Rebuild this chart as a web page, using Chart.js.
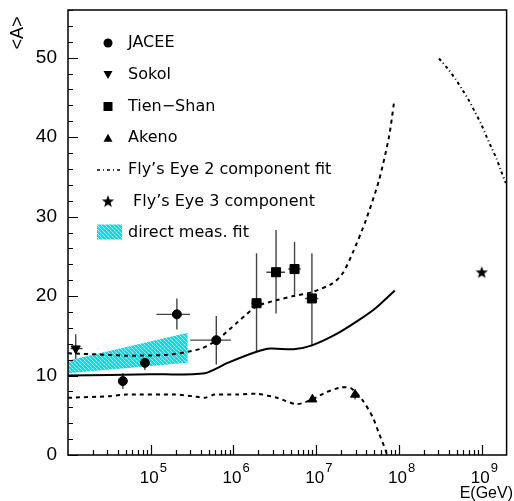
<!DOCTYPE html>
<html>
<head>
<meta charset="utf-8">
<script src="https://cdn.jsdelivr.net/npm/chart.js@4.4.1/dist/chart.umd.min.js"></script>
<style>
  html, body { margin: 0; padding: 0; background: #fff; }
  canvas { display: block; }
</style>
</head>
<body>
<canvas id="chart" width="514" height="501"></canvas>
<script>
// --- data ---
const jaceeE = [4.6e4, 8.5e4, 2.07e5, 6.2e5];
const jaceeA = [9.3, 11.6, 17.7, 14.45];
const jaceeElo = [4.05e4, 5.6e4, 1.17e5, 3.0e5];
const jaceeEhi = [5.3e4, 1.14e5, 2.98e5, 9.3e5];
const jaceeAlo = [8.3, 10.7, 15.8, 11.4];
const jaceeAhi = [10.3, 12.5, 19.7, 17.5];

const sokolE = [1.24e4];
const sokolA = [13.4];
const sokolElo = [1.07e4];
const sokolEhi = [1.5e4];
const sokolAlo = [11.5];
const sokolAhi = [15.2];

const tienE = [1.9e6, 3.27e6, 5.47e6, 8.87e6];
const tienA = [19.1, 23.0, 23.4, 19.7];
const tienElo = [1.65e6, 2.5e6, 4.6e6, 7.3e6];
const tienEhi = [2.25e6, 4.2e6, 6.5e6, 1.06e7];
const tienAlo = [13.0, 17.8, 19.9, 13.8];
const tienAhi = [25.4, 28.3, 26.8, 25.4];

const akenoE = [9.0e6, 2.95e7];
const akenoA = [7.0, 7.6];
const akenoAlo = [7.0, 7.0];
const akenoAhi = [7.0, 8.2];

const fly3E = [1.0e9];
const fly3A = [23.0];

// mean <A> (solid)
const meanE = [1e4, 1e5, 4.5e5, 8.5e5, 1.9e6, 2.8e6, 5.3e6, 8.9e6, 1.74e7, 3.3e7, 5.25e7, 8.9e7];
const meanA = [10.0, 10.15, 10.3, 11.6, 13.0, 13.4, 13.3, 13.8, 15.2, 17.0, 18.5, 20.7];

// upper / lower bounds (dashed)
const upperE = [1e4, 3.2e4, 5e4, 1.6e5, 2.8e5, 4.1e5, 6.2e5, 1.12e6, 1.9e6, 3.37e6, 5.3e6, 8.9e6, 1.58e7, 2.1e7, 2.75e7, 4e7, 5.75e7, 7.6e7, 8.7e7];
const upperA = [12.8, 12.6, 12.5, 12.6, 13.0, 13.4, 14.4, 16.7, 18.7, 19.5, 20.0, 20.5, 21.6, 22.9, 25.4, 29.6, 34.6, 40.1, 44.3];
const lowerE = [1e4, 3.2e4, 5e4, 2e5, 3.2e5, 4.5e5, 5.9e5, 1.12e6, 1.95e6, 3.37e6, 5.8e6, 9e6, 1.32e7, 2e7, 2.63e7, 3.63e7, 4.8e7, 5.75e7, 6.9e7, 7.2e7];
const lowerA = [7.2, 7.4, 7.6, 7.6, 7.4, 7.2, 7.6, 7.6, 7.7, 7.2, 6.4, 7.0, 7.9, 8.5, 8.4, 6.9, 4.8, 2.7, 0.6, 0.0];

// Fly's Eye 2 component fit (dash-dot)
const fly2E = [3.05e8, 3.9e8, 4.83e8, 5.9e8, 7.1e8, 8.35e8, 9.8e8, 1.13e9, 1.31e9, 1.51e9, 1.72e9, 1.96e9];
const fly2A = [49.9, 48.6, 47.3, 45.9, 44.5, 43.1, 41.7, 40.2, 38.7, 37.3, 35.7, 34.2];

// direct measurement fit band
const bandE = [1e4, 2.8e5];
const bandLo = [10.3, 11.6];
const bandHi = [11.9, 15.4];

const yTicks = [0, 10, 20, 30, 40, 50];
const xExps = [5, 6, 7, 8, 9];

const pts = (xs, ys) => xs.map((x, i) => ({ x, y: ys[i] }));

// star marker
const starImg = document.createElement('canvas');
starImg.width = starImg.height = 14;
(function () {
  const g = starImg.getContext('2d');
  g.fillStyle = '#000';
  g.beginPath();
  for (let i = 0; i < 10; i++) {
    const r = i % 2 ? 2.7 : 6.5;
    const a = -Math.PI / 2 + i * Math.PI / 5;
    g.lineTo(7 + r * Math.cos(a), 7.5 + r * Math.sin(a));
  }
  g.closePath();
  g.fill();
})();

// hatched cyan fill
const hatch = document.createElement('canvas');
hatch.width = hatch.height = 4;
(function () {
  const g = hatch.getContext('2d');
  g.fillStyle = '#00e2f4';
  g.fillRect(0, 0, 4, 4);
  g.strokeStyle = 'rgba(190,248,255,0.9)';
  g.lineWidth = 1;
  g.beginPath();
  g.moveTo(-1, -1); g.lineTo(5, 5);
  g.moveTo(-1, 3); g.lineTo(1, 5);
  g.moveTo(3, -1); g.lineTo(5, 1);
  g.stroke();
})();

const canvas = document.getElementById('chart');
const hatchPattern = canvas.getContext('2d').createPattern(hatch, 'repeat');

const errorSets = [
  { e: jaceeE, a: jaceeA, elo: jaceeElo, ehi: jaceeEhi, alo: jaceeAlo, ahi: jaceeAhi },
  { e: sokolE, a: sokolA, elo: sokolElo, ehi: sokolEhi, alo: sokolAlo, ahi: sokolAhi },
  { e: tienE, a: tienA, elo: tienElo, ehi: tienEhi, alo: tienAlo, ahi: tienAhi },
  { e: akenoE, a: akenoA, elo: akenoE, ehi: akenoE, alo: akenoAlo, ahi: akenoAhi },
];

const errorBars = {
  id: 'errorBars',
  beforeDatasetsDraw(chart) {
    const { ctx, scales: { x, y } } = chart;
    ctx.save();
    ctx.strokeStyle = '#444';
    ctx.lineWidth = 1.4;
    errorSets.forEach(s => {
      s.e.forEach((e, i) => {
        const px = x.getPixelForValue(e), py = y.getPixelForValue(s.a[i]);
        ctx.beginPath();
        ctx.moveTo(x.getPixelForValue(s.elo[i]), py);
        ctx.lineTo(x.getPixelForValue(s.ehi[i]), py);
        ctx.moveTo(px, y.getPixelForValue(s.alo[i]));
        ctx.lineTo(px, y.getPixelForValue(s.ahi[i]));
        ctx.stroke();
      });
    });
    ctx.restore();
  }
};

const frame = {
  id: 'frame',
  afterDraw(chart) {
    const { ctx, chartArea: a, scales: { x, y } } = chart;
    ctx.save();
    ctx.strokeStyle = '#000';
    ctx.lineWidth = 1.5;
    ctx.strokeRect(a.left, a.top, a.right - a.left, a.bottom - a.top);

    // y ticks, inward
    ctx.lineWidth = 1.2;
    ctx.beginPath();
    for (let v = 0; v <= 56; v += 2) {
      const py = Math.round(y.getPixelForValue(v)) + 0.5;
      const len = v % 10 === 0 ? 10 : 5;
      ctx.moveTo(a.left, py);
      ctx.lineTo(a.left + len, py);
    }
    // x ticks, inward
    for (let d = 4; d <= 9; d++) {
      for (let m = 1; m <= 9; m++) {
        const v = m * Math.pow(10, d);
        if (v <= x.min || v >= x.max) continue;
        const px = Math.round(x.getPixelForValue(v)) + 0.5;
        const len = m === 1 ? 10 : 5;
        ctx.moveTo(px, a.bottom);
        ctx.lineTo(px, a.bottom - len);
      }
    }
    ctx.stroke();

    // x tick labels 10^n
    ctx.fillStyle = '#000';
    xExps.forEach(n => {
      const px = x.getPixelForValue(Math.pow(10, n));
      ctx.font = '17px "Liberation Sans", Arial, sans-serif';
      ctx.textAlign = 'right';
      ctx.textBaseline = 'alphabetic';
      ctx.fillText('10', px + 8, 483);
      ctx.font = '13px "Liberation Sans", Arial, sans-serif';
      ctx.textAlign = 'left';
      ctx.fillText(String(n), px + 9, 472);
    });

    // axis titles
    ctx.font = '16px "Liberation Sans", Arial, sans-serif';
    ctx.textAlign = 'right';
    ctx.fillText('E(GeV)', 513, 498);
    ctx.save();
    ctx.translate(23, 33);
    ctx.rotate(-Math.PI / 2);
    ctx.textAlign = 'center';
    ctx.font = '18px "Liberation Sans", Arial, sans-serif';
    ctx.fillText('<A>', 0, 0);
    ctx.restore();

    // legend
    const rows = [43, 74.5, 106.5, 138.3, 170, 201.7, 232.5];
    const mx = 108, tx = 128;
    ctx.font = '16px "DejaVu Sans", sans-serif';
    ctx.textAlign = 'left';
    ctx.textBaseline = 'middle';
    ctx.fillStyle = '#000';
    // circle
    ctx.beginPath(); ctx.arc(mx, rows[0], 4.5, 0, Math.PI * 2); ctx.fill();
    // inverted triangle
    ctx.beginPath(); ctx.moveTo(mx - 4.5, rows[1] - 3.5); ctx.lineTo(mx + 4.5, rows[1] - 3.5); ctx.lineTo(mx, rows[1] + 4.5); ctx.closePath(); ctx.fill();
    // square
    ctx.fillRect(mx - 4.5, rows[2] - 4.5, 9, 9);
    // triangle
    ctx.beginPath(); ctx.moveTo(mx - 4.5, rows[3] + 3.5); ctx.lineTo(mx + 4.5, rows[3] + 3.5); ctx.lineTo(mx, rows[3] - 4.5); ctx.closePath(); ctx.fill();
    // dash-dot
    ctx.save();
    ctx.lineWidth = 1.5;
    ctx.setLineDash([3, 3, 1, 3]);
    ctx.beginPath(); ctx.moveTo(97, rows[4]); ctx.lineTo(120, rows[4]); ctx.stroke();
    ctx.restore();
    // star
    ctx.drawImage(starImg, mx - 7, rows[5] - 7.5);
    // band swatch
    ctx.fillStyle = hatchPattern;
    ctx.fillRect(97, rows[6] - 8, 25, 15);
    ctx.fillStyle = '#000';

    const labels = ['JACEE', 'Sokol', 'Tien\u2212Shan', 'Akeno', 'Fly\u2019s Eye 2 component fit', ' Fly\u2019s Eye 3 component', 'direct meas. fit'];
    labels.forEach((t, i) => ctx.fillText(t, tx, rows[i]));
    ctx.restore();
  }
};

new Chart(canvas, {
  type: 'scatter',
  data: {
    datasets: [
      { data: pts(bandE, bandLo), showLine: true, borderWidth: 0, pointRadius: 0, fill: false, order: 10 },
      { data: pts(bandE, bandHi), showLine: true, borderWidth: 0, pointRadius: 0, fill: '-1', backgroundColor: hatchPattern, order: 10 },
      { data: pts(meanE, meanA), showLine: true, borderColor: '#000', borderWidth: 2, pointRadius: 0, tension: 0.25, order: 5 },
      { data: pts(upperE, upperA), showLine: true, borderColor: '#000', borderWidth: 2, borderDash: [4, 4], pointRadius: 0, tension: 0.25, order: 5 },
      { data: pts(lowerE, lowerA), showLine: true, borderColor: '#000', borderWidth: 2, borderDash: [4, 4], pointRadius: 0, tension: 0.25, order: 5 },
      { data: pts(fly2E, fly2A), showLine: true, borderColor: '#000', borderWidth: 2, borderDash: [3, 3, 1, 3], pointRadius: 0, tension: 0.2, order: 5 },
      { data: pts(jaceeE, jaceeA), pointStyle: 'circle', pointRadius: 4.5, backgroundColor: '#000', borderColor: '#000', order: 1 },
      { data: pts(sokolE, sokolA), pointStyle: 'triangle', rotation: 180, pointRadius: 5.2, backgroundColor: '#000', borderColor: '#000', order: 1 },
      { data: pts(tienE, tienA), pointStyle: 'rect', pointRadius: 6.4, backgroundColor: '#000', borderColor: '#000', order: 1 },
      { data: pts(akenoE, akenoA), pointStyle: 'triangle', pointRadius: 5.2, backgroundColor: '#000', borderColor: '#000', order: 1 },
      { data: pts(fly3E, fly3A), pointStyle: starImg, order: 1 },
    ]
  },
  options: {
    responsive: false,
    animation: false,
    layout: { padding: { top: 10, right: 2, left: 0, bottom: 0 } },
    plugins: { legend: { display: false }, tooltip: { enabled: false } },
    scales: {
      x: {
        type: 'logarithmic', min: 1e4, max: 2e9,
        grid: { display: false, drawTicks: false },
        border: { display: false },
        ticks: { display: false },
        afterFit: s => { s.height = 46; s.paddingLeft = 0; s.paddingRight = 0; }
      },
      y: {
        type: 'linear', min: 0, max: 56,
        grid: { display: false, drawTicks: false },
        border: { display: false },
        afterBuildTicks: s => { s.ticks = yTicks.map(v => ({ value: v })); },
        ticks: { color: '#000', padding: 11, font: { family: '"Liberation Sans", Arial, sans-serif', size: 19 } },
        afterFit: s => { s.width = 68; s.paddingTop = 0; s.paddingBottom = 0; }
      }
    }
  },
  plugins: [errorBars, frame]
});
</script>
</body>
</html>
